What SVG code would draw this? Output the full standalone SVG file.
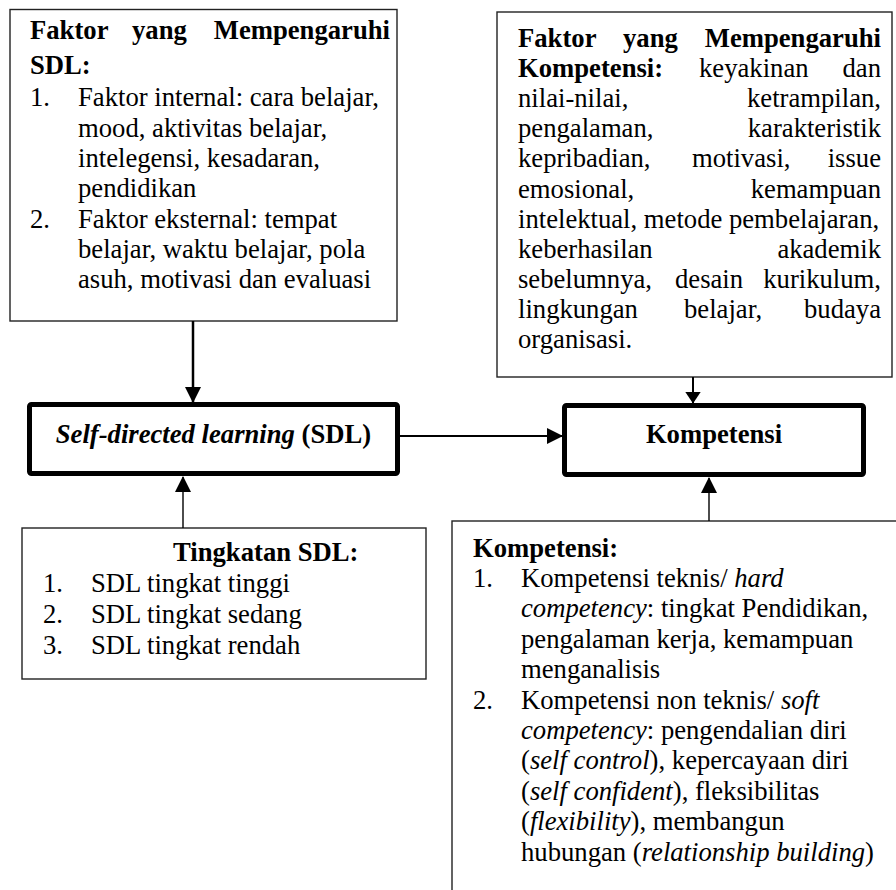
<svg xmlns="http://www.w3.org/2000/svg" width="896" height="890" viewBox="0 0 896 890">
<style>
text{font-family:"Liberation Serif","Times New Roman",serif;font-size:26.67px;fill:#000}
.b{font-weight:bold}
.i{font-style:italic}
.end{text-anchor:end}
.mid{text-anchor:middle}
.box{fill:#fff;stroke:#222;stroke-width:1.4}
.main{fill:#fff;stroke:#000;stroke-width:5}
.c{stroke:#000;fill:none}
</style>
<defs>
<marker id="ah" markerUnits="userSpaceOnUse" markerWidth="16" markerHeight="16" viewBox="0 0 16 16" refX="15" refY="8" orient="auto">
<polygon points="0,0 16,8 0,16" fill="#000"/>
</marker>
<marker id="ahs" markerUnits="userSpaceOnUse" markerWidth="12" markerHeight="16" viewBox="0 0 12 16" refX="11.5" refY="8" orient="auto">
<polygon points="0,0 12,8 0,16" fill="#000"/>
</marker>
</defs>

<g id="faktor-sdl">
<rect class="box" x="10" y="9.5" width="387" height="311.5"/>
<text class="b" x="30" y="39">Faktor</text>
<text class="b" x="132" y="39">yang</text>
<text class="b end" x="390" y="39">Mempengaruhi</text>
<text class="b" x="30" y="74">SDL:</text>
<text x="30" y="106">1.</text><text x="78" y="106">Faktor internal: cara belajar,</text>
<text x="78" y="137">mood, aktivitas belajar,</text>
<text x="78" y="167">intelegensi, kesadaran,</text>
<text x="78" y="197">pendidikan</text>
<text x="30" y="228">2.</text><text x="78" y="228">Faktor eksternal: tempat</text>
<text x="78" y="258">belajar, waktu belajar, pola</text>
<text x="78" y="288">asuh, motivasi dan evaluasi</text>
</g>

<g id="faktor-kompetensi">
<rect class="box" x="497" y="12" width="395" height="365"/>
<text class="b" x="518" y="47">Faktor</text>
<text class="b" x="623" y="47">yang</text>
<text class="b end" x="881" y="47">Mempengaruhi</text>
<text class="b" x="518" y="77">Kompetensi:</text>
<text x="699" y="77">keyakinan</text>
<text class="end" x="881" y="77">dan</text>
<text x="518" y="107">nilai-nilai,</text>
<text class="end" x="881" y="107">ketrampilan,</text>
<text x="518" y="137">pengalaman,</text>
<text class="end" x="881" y="137">karakteristik</text>
<text x="518" y="167">kepribadian,</text>
<text x="692" y="167">motivasi,</text>
<text class="end" x="881" y="167">issue</text>
<text x="518" y="197.5">emosional,</text>
<text class="end" x="881" y="197.5">kemampuan</text>
<text x="518" y="228">intelektual, metode pembelajaran,</text>
<text x="518" y="258">keberhasilan</text>
<text class="end" x="881" y="258">akademik</text>
<text x="518" y="288">sebelumnya,</text>
<text x="675" y="288">desain</text>
<text class="end" x="881" y="288">kurikulum,</text>
<text x="518" y="318">lingkungan</text>
<text x="684" y="318">belajar,</text>
<text class="end" x="881" y="318">budaya</text>
<text x="518" y="348">organisasi.</text>
</g>

<g id="sdl">
<rect class="main" x="29.5" y="404.5" width="368" height="69" rx="2"/>
<text class="b mid" x="213.5" y="443"><tspan class="i">Self-directed learning</tspan> (SDL)</text>
</g>

<g id="kompetensi">
<rect class="main" x="564.5" y="405.5" width="299" height="69" rx="2"/>
<text class="b mid" x="714" y="443">Kompetensi</text>
</g>

<g id="tingkatan-sdl">
<rect class="box" x="22" y="528" width="404" height="151"/>
<text class="b" x="173" y="561">Tingkatan SDL:</text>
<text x="43" y="592">1.</text><text x="91" y="592">SDL tingkat tinggi</text>
<text x="43" y="623">2.</text><text x="91" y="623">SDL tingkat sedang</text>
<text x="43" y="654">3.</text><text x="91" y="654">SDL tingkat rendah</text>
</g>

<g id="jenis-kompetensi">
<rect class="box" x="452" y="521" width="460" height="400"/>
<text class="b" x="473" y="557">Kompetensi:</text>
<text x="473" y="587">1.</text><text x="521" y="587">Kompetensi teknis/ <tspan class="i">hard</tspan></text>
<text x="521" y="617.4"><tspan class="i">competency</tspan>: tingkat Pendidikan,</text>
<text x="521" y="647.8">pengalaman kerja, kemampuan</text>
<text x="521" y="678.2">menganalisis</text>
<text x="473" y="708.6">2.</text><text x="521" y="708.6">Kompetensi non teknis/ <tspan class="i">soft</tspan></text>
<text x="521" y="739"><tspan class="i">competency</tspan>: pengendalian diri</text>
<text x="521" y="769.4">(<tspan class="i">self control</tspan>), kepercayaan diri</text>
<text x="521" y="799.8">(<tspan class="i">self confident</tspan>), fleksibilitas</text>
<text x="521" y="830.2">(<tspan class="i">flexibility</tspan>), membangun</text>
<text x="521" y="860.6">hubungan (<tspan class="i">relationship building</tspan>)</text>
</g>

<g id="connectors">
<line class="c" x1="193" y1="321" x2="193" y2="402" stroke-width="2.5" marker-end="url(#ah)"/>
<line class="c" x1="693" y1="377" x2="693" y2="403" stroke-width="2" marker-end="url(#ahs)"/>
<line class="c" x1="400" y1="436" x2="562" y2="436" stroke-width="2" marker-end="url(#ah)"/>
<line class="c" x1="183" y1="528" x2="183" y2="477" stroke-width="1.4" marker-end="url(#ah)"/>
<line class="c" x1="709" y1="521" x2="709" y2="478" stroke-width="1.4" marker-end="url(#ah)"/>
</g>
</svg>
